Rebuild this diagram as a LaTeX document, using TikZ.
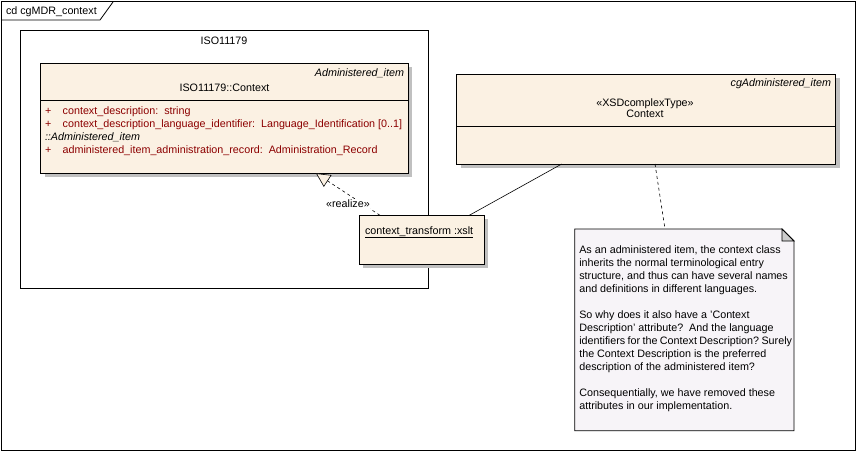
\documentclass[tikz,border=0pt]{standalone}
\usepackage{fontspec}
\setmainfont{Liberation Sans}
\usetikzlibrary{arrows.meta}
\definecolor{beige}{RGB}{251,241,227}
\definecolor{notefill}{RGB}{247,244,248}
\definecolor{attr}{RGB}{140,0,0}
\definecolor{shadowgray}{RGB}{192,192,192}
\definecolor{foldgray}{RGB}{205,205,205}
\begin{document}
\begin{tikzpicture}[x=1pt,y=-1pt,
  font=\fontsize{10.75}{13}\selectfont,
  every node/.style={inner sep=0pt, outer sep=0pt},
  frameline/.style={draw, line width=0.8pt},
  classbox/.style={draw, fill=beige, line width=0.8pt, anchor=north west},
  shadowbox/.style={fill=shadowgray},
  txt/.style={anchor=base west},
  txtc/.style={anchor=base},
  txtr/.style={anchor=base east},
  attrtxt/.style={anchor=base west, text=attr},
  link/.style={line width=0.6pt},
  dlink/.style={line width=0.6pt, dash pattern=on 3pt off 3pt}
]
\useasboundingbox (0,0) rectangle (856,451);
% outer frame
\node[frameline, minimum width=854pt, minimum height=449pt, anchor=north west] (frame) at (1,1) {};
\draw[line width=0.8pt] (frame.north west) ++(0,-19pt) -- ++(99pt,0) -- ++(13pt,18pt);
\node[txt] (frametitle) at (6,14) {cd cgMDR\_context};

% package
\node[frameline, minimum width=407.5pt, minimum height=257.5pt, anchor=north west] (pkg) at (20.5,30.5) {};
\node[txtc] (pkgname) at (224,44.2) {ISO11179};

% ISO11179::Context class
\fill[shadowbox] (44.7,67.3) rectangle (412.3,177.3);
\node[classbox, minimum width=367.6pt, minimum height=110pt] (iso) at (40.7,63.3) {};
\draw[line width=0.8pt] (iso.west |- 0,100) -- (iso.east |- 0,100);
\node[txtr] (isostereo) at (404,76) {\itshape Administered\_item};
\node[txtc] (isoname) at (224.5,91.5) {ISO11179::Context};
\node[attrtxt] (p1) at (45,114) {+};
\node[attrtxt] (a1) at (62.7,114) {context\_description:\ \ string};
\node[attrtxt] (p2) at (45,127) {+};
\node[attrtxt] (a2) at (62.7,127) {context\_description\_language\_identifier:\ \ Language\_Identification [0..1]};
\node[txt] (inh) at (45,140) {\itshape ::Administered\_item};
\node[attrtxt] (p3) at (45,153) {+};
\node[attrtxt] (a3) at (62.7,153) {administered\_item\_administration\_record:\ \ Administration\_Record};

% Context class
\fill[shadowbox] (460.7,78) rectangle (839.7,168);
\node[classbox, minimum width=379pt, minimum height=90pt] (ctx) at (456.7,74) {};
\draw[line width=0.8pt] (ctx.west |- 0,126.3) -- (ctx.east |- 0,126.3);
\node[txtr] (ctxstereo) at (831,86.8) {\itshape cgAdministered\_item};
\node[txtc] (ctxst) at (645,106.8) {«XSDcomplexType»};
\node[txtc] (ctxname) at (645,117.8) {Context};

% context_transform object
\fill[shadowbox] (363.3,219.3) rectangle (488.3,268);
\node[classbox, minimum width=125pt, minimum height=48.7pt] (xslt) at (359.3,215.3) {};
\node[txt] (xsltname) at (365,234) {\underline{context\_transform :xslt}};

% note
\node[minimum width=219.3pt, minimum height=201.7pt, anchor=north west] (note) at (574.7,229) {};
\draw[line width=0.8pt, fill=notefill] (note.north west) -- ([xshift=-12pt]note.north east)
  -- ([yshift=-12pt]note.north east) -- (note.south east) -- (note.south west) -- cycle;
\draw[line width=0.8pt, fill=foldgray] ([xshift=-12pt]note.north east) -- ([xshift=-12pt,yshift=-12pt]note.north east)
  -- ([yshift=-12pt]note.north east) -- cycle;
\foreach \k/\t in {0/{As an administered item, the context class},
                   1/{inherits the normal terminological entry},
                   2/{structure, and thus can have several names},
                   3/{and definitions in different languages.},
                   5/{So why does it also have a 'Context},
                   6/{Description' attribute?\ \ And the language},
                   7/{\spaceskip=2.4pt identifiers for the Context Description?\ Surely},
                   8/{the Context Description is the preferred},
                   9/{description of the administered item?},
                   11/{Consequentially, we have removed these},
                   12/{attributes in our implementation.}}
  \node[txt] (noteline\k) at (579.3,253.5+13*\k) {\t};

% connectors
\draw[dlink, -{Triangle[open, fill=beige, length=14pt, width=14pt, line width=0.6pt]}]
  ([xshift=20.7pt]xslt.north west) -- ([xshift=275.3pt]iso.south west);
\node[fill=white, inner sep=0.6pt] (rlz) at (348,204) {«realize»};
\draw[link] ([xshift=105pt]ctx.south west) -- ([xshift=110pt]xslt.north west);
\draw[dlink] ([xshift=198.3pt]ctx.south west) -- ([xshift=90.3pt]note.north west);
\end{tikzpicture}
\end{document}
